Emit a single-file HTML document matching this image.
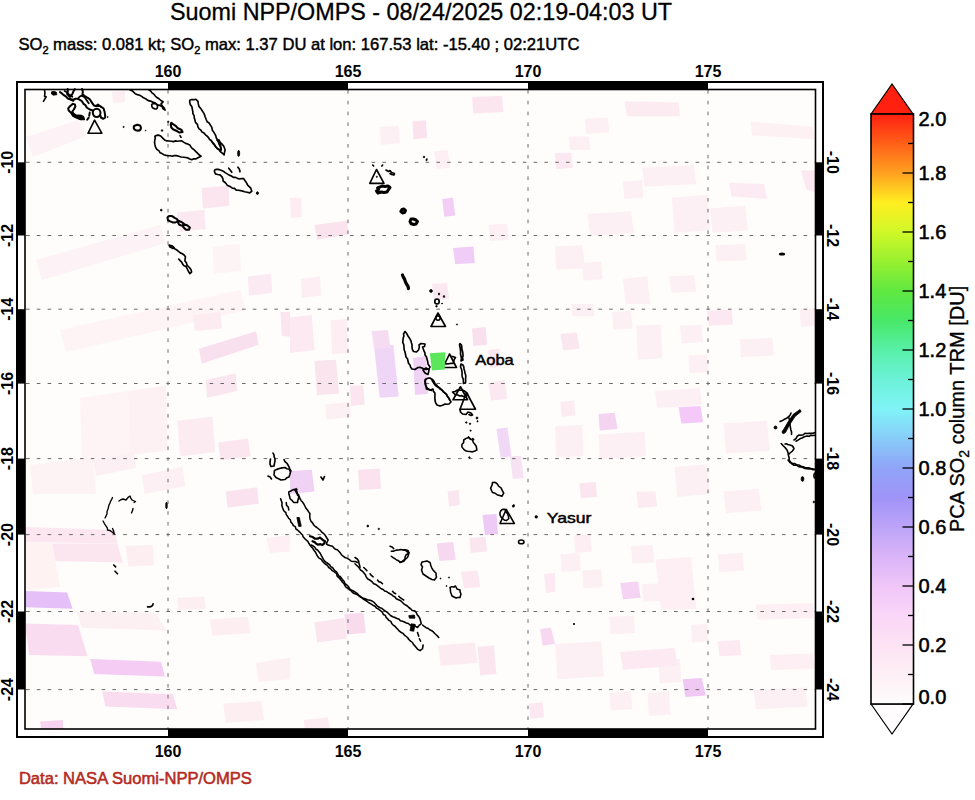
<!DOCTYPE html>
<html><head><meta charset="utf-8"><style>
html,body{margin:0;padding:0;background:#fff;}
svg{display:block;font-family:"Liberation Sans", sans-serif;}
</style></head><body>
<svg width="975" height="800" viewBox="0 0 975 800">
<rect x="25" y="89" width="791" height="641" fill="#fffcfc"/>
<polygon points="571.3,304.0 593.0,304.0 594.4,316.2 572.7,316.2" fill="#fdf0f4"/>
<polygon points="612.0,312.0 631.0,310.8 632.4,328.5 613.4,329.8" fill="#fdf0f4"/>
<polygon points="636.5,325.7 661.0,324.4 662.3,358.3 638.0,359.7" fill="#fdf0f4"/>
<polygon points="680.0,325.7 701.7,324.4 703.0,342.0 681.4,343.4" fill="#fdf0f4"/>
<polygon points="688.2,355.6 707.2,354.3 708.5,372.0 689.5,373.3" fill="#fdf0f4"/>
<polygon points="739.8,339.3 772.4,338.0 773.8,355.6 741.0,357.0" fill="#fdf0f4"/>
<polygon points="799.6,309.4 815.0,308.0 815.0,325.7 801.0,327.0" fill="#fdf0f4"/>
<polygon points="598.5,434.4 644.7,431.7 646.0,456.2 599.8,459.0" fill="#fdf0f4"/>
<polygon points="555.0,426.3 582.2,425.0 583.5,456.2 556.4,457.5" fill="#fdf0f4"/>
<polygon points="723.5,423.6 767.0,420.8 769.7,450.7 726.2,453.5" fill="#fdf0f4"/>
<polygon points="674.6,467.0 707.2,464.3 710.0,494.0 677.3,497.0" fill="#fdf0f4"/>
<polygon points="723.5,491.5 758.8,488.8 761.5,510.5 726.2,513.2" fill="#fdf0f4"/>
<polygon points="585.0,119.0 608.0,117.5 609.3,132.5 586.3,134.0" fill="#fdf0f4"/>
<polygon points="642.0,167.8 693.6,165.0 696.3,184.0 644.7,186.8" fill="#fdf0f4"/>
<polygon points="623.0,181.4 642.0,180.0 643.3,197.7 624.3,199.0" fill="#fdf0f4"/>
<polygon points="671.8,197.7 707.2,195.0 710.0,230.3 674.6,233.0" fill="#fdf0f4"/>
<polygon points="587.6,214.0 631.0,211.3 633.8,233.0 590.3,235.7" fill="#fdf0f4"/>
<polygon points="709.9,208.6 745.2,205.8 748.0,230.3 712.6,233.0" fill="#fdf0f4"/>
<polygon points="555.0,246.6 582.2,245.3 585.0,268.3 556.4,269.7" fill="#fdf0f4"/>
<polygon points="582.2,263.0 601.2,261.6 602.6,279.2 583.5,280.6" fill="#fdf0f4"/>
<polygon points="669.0,276.5 693.6,275.2 696.3,291.4 671.8,292.8" fill="#fdf0f4"/>
<polygon points="715.3,245.3 745.2,244.0 746.6,260.2 716.7,261.6" fill="#fdf0f4"/>
<polygon points="623.0,279.0 647.4,276.5 650.0,304.0 625.7,304.0" fill="#fdf0f4"/>
<polygon points="560.4,554.3 579.5,553.0 580.8,570.6 561.8,572.0" fill="#fdf0f4"/>
<polygon points="582.2,570.6 601.2,569.3 602.6,587.0 583.5,588.3" fill="#fdf0f4"/>
<polygon points="631.0,546.0 652.8,544.8 654.2,562.5 632.4,563.8" fill="#fdf0f4"/>
<polygon points="642.0,584.2 663.7,583.0 665.0,600.5 643.3,602.0" fill="#fdf0f4"/>
<polygon points="609.3,616.8 633.8,615.5 635.0,633.0 610.7,634.5" fill="#fdf0f4"/>
<polygon points="690.9,625.0 707.2,623.6 708.5,641.3 692.2,642.6" fill="#fdf0f4"/>
<polygon points="555.0,644.0 601.2,641.3 604.0,676.6 557.7,679.3" fill="#fdf0f4"/>
<polygon points="658.3,660.3 680.0,659.0 681.4,682.0 659.6,683.4" fill="#fdf0f4"/>
<polygon points="609.3,693.0 631.0,691.6 632.4,709.2 610.7,710.6" fill="#fdf0f4"/>
<polygon points="647.4,693.0 669.0,691.6 670.5,714.7 648.7,716.0" fill="#fdf0f4"/>
<polygon points="26.0,137.0 78.0,120.0 86.5,136.0 33.0,157.0" fill="#fdf2f5"/>
<polygon points="201.6,188.0 228.8,185.5 229.4,205.8 203.0,208.6" fill="#fbe6ef"/>
<polygon points="177.0,212.6 204.3,210.0 205.7,229.0 180.0,231.7" fill="#fbe8f0"/>
<polygon points="247.8,276.5 271.0,273.8 272.3,292.8 249.0,295.5" fill="#fbeaf1"/>
<polygon points="212.5,246.6 239.7,244.0 241.0,271.0 213.9,273.8" fill="#fdf4f6"/>
<polygon points="36.0,260.0 160.0,225.0 166.0,243.0 42.0,280.0" fill="#fdf2f5"/>
<polygon points="60.0,330.0 240.0,290.0 246.0,310.0 66.0,352.0" fill="#fef3f5"/>
<polygon points="112.0,92.0 125.0,91.0 125.0,102.0 113.0,103.0" fill="#fdeef3"/>
<polygon points="412.3,121.6 425.9,120.3 427.2,138.0 413.6,139.3" fill="#fae3ee"/>
<polygon points="472.0,97.0 502.0,95.8 503.3,112.0 473.4,113.5" fill="#fbe6f0"/>
<polygon points="379.7,127.0 398.7,125.7 400.0,143.3 381.0,144.7" fill="#fdf0f4"/>
<polygon points="442.2,199.0 453.0,197.7 455.2,215.4 444.3,216.7" fill="#f2cef6"/>
<polygon points="453.0,248.0 473.4,246.6 474.8,263.0 455.2,264.3" fill="#f0cdf6"/>
<polygon points="314.5,224.9 347.0,220.8 348.4,234.4 317.2,239.8" fill="#fbe3ee"/>
<polygon points="488.4,224.9 507.4,223.5 509.0,240.0 490.0,241.0" fill="#fdf0f4"/>
<polygon points="434.0,151.5 447.6,150.0 450.3,167.8 436.7,169.0" fill="#fdeff3"/>
<polygon points="290.0,197.7 301.0,197.7 302.0,216.7 291.0,218.0" fill="#fdedf2"/>
<polygon points="301.0,279.0 320.0,276.5 321.0,295.5 302.0,298.0" fill="#fdeef3"/>
<polygon points="432.0,284.0 447.0,283.0 449.0,299.0 434.0,300.0" fill="#fbe8f0"/>
<polygon points="624.3,101.2 678.6,102.6 680.0,116.2 627.0,116.2" fill="#fcecf2"/>
<polygon points="729.0,182.8 764.2,184.0 767.0,199.0 731.6,196.3" fill="#fcebf2"/>
<polygon points="555.0,153.0 571.3,153.0 572.7,167.8 556.4,169.2" fill="#fbe8f0"/>
<polygon points="750.7,121.6 813.0,127.0 814.5,139.3 752.0,135.2" fill="#fdf1f4"/>
<polygon points="801.0,170.5 815.0,170.5 815.0,192.0 806.4,189.5" fill="#fce8f0"/>
<polygon points="568.6,136.6 589.0,136.6 590.3,150.0 570.0,150.0" fill="#fdf0f4"/>
<polygon points="199.0,348.8 256.0,331.2 258.7,344.8 201.6,363.8" fill="#f9e0ee"/>
<polygon points="193.5,315.0 220.7,312.0 222.0,328.5 194.8,331.0" fill="#fcecf2"/>
<polygon points="205.7,380.0 235.6,373.3 237.0,391.0 207.0,397.7" fill="#fae6ef"/>
<polygon points="177.2,420.8 212.5,416.8 215.2,452.0 180.0,456.2" fill="#fcecf2"/>
<polygon points="218.0,442.6 248.0,438.5 250.5,456.2 220.7,460.2" fill="#fbe6f0"/>
<polygon points="226.0,491.5 257.3,487.4 258.7,503.7 227.4,507.8" fill="#fae3ee"/>
<polygon points="280.4,312.0 290.0,312.0 290.0,336.6 282.0,336.0" fill="#fbe6f0"/>
<polygon points="128.0,391.0 166.0,385.5 167.7,450.7 129.6,455.0" fill="#fdf1f4"/>
<polygon points="80.0,398.0 128.0,391.0 129.6,455.0 82.0,460.0" fill="#fef4f5"/>
<polygon points="93.0,460.0 134.0,452.0 136.0,468.0 96.0,476.0" fill="#fdf0f4"/>
<polygon points="141.8,475.0 182.6,467.0 185.3,486.0 144.6,494.0" fill="#fdf0f4"/>
<polygon points="30.0,465.0 93.0,457.0 96.0,494.0 33.0,494.0" fill="#fef3f4"/>
<polygon points="374.2,347.5 393.3,344.8 398.7,396.4 379.7,397.7" fill="#efd6f6"/>
<polygon points="371.5,331.0 387.8,330.0 390.5,347.5 374.2,348.8" fill="#f6dcf0"/>
<polygon points="314.5,361.0 336.0,359.7 339.0,393.7 317.0,395.0" fill="#fae4ee"/>
<polygon points="290.0,317.6 311.7,315.0 314.5,350.0 290.0,353.0" fill="#fce9f1"/>
<polygon points="330.8,320.3 347.0,319.0 348.4,352.9 332.1,354.2" fill="#fdeef3"/>
<polygon points="349.8,385.5 363.4,385.5 364.7,404.5 351.0,406.0" fill="#fbe6f0"/>
<polygon points="413.0,358.0 426.0,356.0 428.0,393.7 415.0,395.0" fill="#f0d2f4"/>
<polygon points="472.0,328.5 485.7,327.0 487.0,344.8 473.4,346.0" fill="#f9e0ee"/>
<polygon points="488.4,350.0 499.2,348.8 500.6,366.5 489.7,367.9" fill="#fbe8f0"/>
<polygon points="496.5,429.0 507.4,427.6 511.5,456.2 500.6,457.5" fill="#f0d8f6"/>
<polygon points="510.0,456.0 521.0,456.0 523.7,478.0 512.8,479.0" fill="#f7e2f3"/>
<polygon points="358.0,469.8 379.7,468.4 381.0,488.8 359.3,490.0" fill="#fae3ee"/>
<polygon points="290.0,471.0 311.7,469.8 314.5,491.5 290.0,494.0" fill="#f0d2f5"/>
<polygon points="447.6,491.5 458.5,490.0 459.8,505.0 449.0,506.4" fill="#fae6ef"/>
<polygon points="488.4,383.0 504.7,380.0 507.4,399.0 491.0,400.5" fill="#fbe8f0"/>
<polygon points="325.3,404.5 349.8,401.8 351.0,417.0 326.6,419.5" fill="#fdf0f4"/>
<polygon points="678.6,407.3 700.4,406.0 703.0,422.2 681.4,423.6" fill="#f4c8f8"/>
<polygon points="598.5,414.0 614.8,412.7 617.5,429.0 599.8,430.4" fill="#f4d4f0"/>
<polygon points="560.4,333.9 576.7,332.5 579.5,348.8 563.2,350.2" fill="#fae6ef"/>
<polygon points="707.2,310.8 731.6,309.4 733.0,324.4 708.5,325.7" fill="#fbe8f0"/>
<polygon points="560.4,401.8 574.0,400.5 575.4,415.4 561.8,416.8" fill="#fcecf2"/>
<polygon points="579.5,483.3 595.8,482.0 597.0,497.0 580.8,498.3" fill="#fbe6ef"/>
<polygon points="636.5,491.5 655.5,491.5 657.0,506.5 638.0,508.0" fill="#fcecf2"/>
<polygon points="655.0,391.0 700.0,388.0 702.0,405.0 657.0,408.0" fill="#fdf0f4"/>
<polygon points="25.0,527.0 114.7,530.0 117.4,543.5 25.0,542.0" fill="#fce6f0"/>
<polygon points="52.2,543.5 117.4,543.5 122.8,562.5 55.0,561.0" fill="#fbe6f0"/>
<polygon points="25.0,542.0 52.0,543.0 60.0,587.0 25.0,590.0" fill="#fef2f2"/>
<polygon points="25.0,591.0 67.1,592.4 72.6,608.7 25.0,607.3" fill="#e4bff8"/>
<polygon points="25.0,623.6 78.0,625.0 87.5,656.2 29.0,654.9" fill="#fadcf0"/>
<polygon points="90.2,659.0 160.9,661.7 165.0,676.6 94.3,673.9" fill="#f4ccf4"/>
<polygon points="102.4,691.6 173.1,694.3 177.2,709.2 105.2,706.5" fill="#fadcf0"/>
<polygon points="40.0,721.5 63.0,720.0 63.0,729.0 41.3,729.0" fill="#f6d4f0"/>
<polygon points="76.6,611.4 155.4,612.8 166.3,630.4 82.0,627.7" fill="#fdf0f2"/>
<polygon points="125.5,546.0 152.7,544.8 154.0,565.2 128.3,566.6" fill="#fdeef2"/>
<polygon points="209.8,619.5 247.8,616.8 250.5,633.0 212.5,635.8" fill="#fdeef2"/>
<polygon points="223.4,703.8 261.4,701.0 264.0,720.0 226.0,722.8" fill="#fdeef2"/>
<polygon points="256.0,663.0 290.0,657.6 290.0,679.3 258.7,682.0" fill="#fdf0f3"/>
<polygon points="177.2,597.8 204.4,596.4 205.7,608.7 178.5,610.0" fill="#fdeef2"/>
<polygon points="266.8,538.0 290.0,535.3 290.0,551.6 269.6,553.0" fill="#fdeff3"/>
<polygon points="344.3,614.0 363.4,612.8 366.0,633.0 347.0,634.5" fill="#f8dcee"/>
<polygon points="314.5,622.3 344.3,618.0 347.0,638.6 317.2,642.6" fill="#fbe6f0"/>
<polygon points="436.7,543.5 453.0,542.0 455.8,559.8 439.5,561.0" fill="#f6d8f0"/>
<polygon points="482.5,515.0 496.5,514.0 498.0,534.0 485.0,535.0" fill="#eecaf6"/>
<polygon points="469.4,538.0 485.7,536.7 487.0,551.6 470.7,553.0" fill="#fae6ef"/>
<polygon points="461.0,572.0 477.5,570.6 480.2,587.0 464.0,588.3" fill="#fbe8f0"/>
<polygon points="477.5,646.7 493.8,645.4 496.5,674.0 480.2,675.3" fill="#fbe6f0"/>
<polygon points="438.0,645.4 474.8,642.6 477.5,663.0 440.8,665.7" fill="#fcecf2"/>
<polygon points="540.0,629.0 551.0,627.7 555.0,644.0 542.7,645.4" fill="#f6d8f0"/>
<polygon points="529.0,703.8 542.7,702.4 544.0,717.4 530.5,718.7" fill="#fbe8f0"/>
<polygon points="303.6,720.0 328.0,717.4 329.4,728.0 305.0,729.0" fill="#fcebf1"/>
<polygon points="544.0,574.0 555.0,573.0 555.0,592.0 546.0,593.0" fill="#fce9f1"/>
<polygon points="620.2,582.9 638.0,581.5 640.6,597.8 623.0,599.2" fill="#f4d4f2"/>
<polygon points="682.7,679.3 701.7,678.0 705.8,695.6 685.4,697.0" fill="#f0c8f4"/>
<polygon points="620.2,652.0 674.6,648.0 677.3,665.7 623.0,669.8" fill="#fce9f1"/>
<polygon points="655.5,559.8 690.9,557.0 696.3,608.7 661.0,610.0" fill="#fdeff3"/>
<polygon points="718.0,641.3 739.8,640.0 741.0,655.0 719.4,656.2" fill="#fce9f1"/>
<polygon points="756.0,604.6 813.0,603.2 814.5,618.0 757.4,619.5" fill="#fdeff3"/>
<polygon points="769.7,654.9 813.0,653.5 814.5,668.5 771.0,670.0" fill="#fdeff3"/>
<polygon points="753.4,690.0 805.0,687.5 807.7,706.5 756.0,709.2" fill="#fdf0f4"/>
<polygon points="574.0,535.3 590.3,534.0 591.7,551.6 575.4,553.0" fill="#fdeef3"/>
<polygon points="718.0,554.3 742.5,553.0 744.0,570.6 719.4,572.0" fill="#fdeff3"/>
<line x1="168.0" y1="90" x2="168.0" y2="729" stroke="#6a6a6a" stroke-width="1" stroke-dasharray="3.6 7.2"/>
<line x1="348.0" y1="90" x2="348.0" y2="729" stroke="#6a6a6a" stroke-width="1" stroke-dasharray="3.6 7.2"/>
<line x1="528.0" y1="90" x2="528.0" y2="729" stroke="#6a6a6a" stroke-width="1" stroke-dasharray="3.6 7.2"/>
<line x1="708.0" y1="90" x2="708.0" y2="729" stroke="#6a6a6a" stroke-width="1" stroke-dasharray="3.6 7.2"/>
<line x1="26" y1="162.3" x2="815" y2="162.3" stroke="#6a6a6a" stroke-width="1" stroke-dasharray="3.6 7.2"/>
<line x1="26" y1="235.5" x2="815" y2="235.5" stroke="#6a6a6a" stroke-width="1" stroke-dasharray="3.6 7.2"/>
<line x1="26" y1="309.2" x2="815" y2="309.2" stroke="#6a6a6a" stroke-width="1" stroke-dasharray="3.6 7.2"/>
<line x1="26" y1="383.5" x2="815" y2="383.5" stroke="#6a6a6a" stroke-width="1" stroke-dasharray="3.6 7.2"/>
<line x1="26" y1="458.6" x2="815" y2="458.6" stroke="#6a6a6a" stroke-width="1" stroke-dasharray="3.6 7.2"/>
<line x1="26" y1="534.6" x2="815" y2="534.6" stroke="#6a6a6a" stroke-width="1" stroke-dasharray="3.6 7.2"/>
<line x1="26" y1="611.5" x2="815" y2="611.5" stroke="#6a6a6a" stroke-width="1" stroke-dasharray="3.6 7.2"/>
<line x1="26" y1="689.6" x2="815" y2="689.6" stroke="#6a6a6a" stroke-width="1" stroke-dasharray="3.6 7.2"/>
<g transform="translate(40,89) scale(0.08203)">
<path d="M55.0,10.0 L60.0,50.0 L55.0,90.0 L75.0,95.0 L60.0,120.0 L42.0,150.0" fill="none" stroke="#000" stroke-width="1.6" vector-effect="non-scaling-stroke" stroke-linejoin="round" stroke-linecap="round"/>
<path d="M665,380 L585,540 L755,540 Z" fill="none" stroke="#000" stroke-width="1.6" vector-effect="non-scaling-stroke" stroke-linejoin="round" stroke-linecap="round"/>
<path d="M140,35 Q165,20 200,40 L205,70 L160,75 L140,60 Z" fill="#000" stroke="#000" stroke-width="0.8" vector-effect="non-scaling-stroke"/>
</g>
<g transform="translate(60,89) scale(0.05128)">
<path d="M0.0,60.0 L32.6,81.8 L60.0,110.0 L120.0,150.0 L160.0,190.0 L200.0,200.0 L260.0,230.0" fill="none" stroke="#000" stroke-width="2.0" vector-effect="non-scaling-stroke" stroke-linejoin="round" stroke-linecap="round"/>
<path d="M150.0,0.0 L153.1,50.8 L140.0,100.0 L190.0,150.0" fill="none" stroke="#000" stroke-width="2.0" vector-effect="non-scaling-stroke" stroke-linejoin="round" stroke-linecap="round"/>
<path d="M290.0,0.0 L261.8,48.4 L240.0,100.0 L200.0,150.0" fill="none" stroke="#000" stroke-width="2.0" vector-effect="non-scaling-stroke" stroke-linejoin="round" stroke-linecap="round"/>
<path d="M430.0,0.0 L445.0,49.0 L440.0,100.0 L469.5,125.6 L500.0,150.0 L541.7,172.3 L580.0,200.0 L620.0,260.0 L660.0,320.0 L700.0,330.0 L760.0,330.0" fill="none" stroke="#000" stroke-width="2.0" vector-effect="non-scaling-stroke" stroke-linejoin="round" stroke-linecap="round"/>
<path d="M200.0,200.0 L260.0,210.0 L302.8,189.9 L350.0,190.0 L384.9,210.2 L420.0,230.0 L460.0,290.0 L498.2,318.0 L520.0,360.0 L580.0,400.0 L640.0,420.0" fill="none" stroke="#000" stroke-width="2.0" vector-effect="non-scaling-stroke" stroke-linejoin="round" stroke-linecap="round"/>
<path d="M250.0,290.0 L290.0,300.0 L300.0,340.0 L270.0,400.0 L240.0,440.0 L260.0,480.0 L320.0,520.0 L360.0,518.4 L400.0,520.0 L450.0,540.0 L470.0,590.0 L400.0,590.0 L330.0,560.0 L260.0,530.0 L220.0,470.0 L170.0,420.0 L160.0,380.0 L200.0,330.0 L250.0,290.0 Z" fill="none" stroke="#000" stroke-width="2.0" vector-effect="non-scaling-stroke" stroke-linejoin="round" stroke-linecap="round"/>
<path d="M640,465 A75,80 0 1,0 790,465 A75,80 0 1,0 640,465 Z" fill="none" stroke="#000" stroke-width="2.0" vector-effect="non-scaling-stroke" stroke-linejoin="round" stroke-linecap="round"/>
<path d="M790.0,340.0 L850.0,380.0 L870.0,450.0 L880.0,510.0 L880.0,560.0 L840.0,580.0 L800.0,560.0 L790.0,520.0" fill="none" stroke="#000" stroke-width="2.0" vector-effect="non-scaling-stroke" stroke-linejoin="round" stroke-linecap="round"/>
<path d="M580.0,460.0 L570.0,520.0" fill="none" stroke="#000" stroke-width="2.0" vector-effect="non-scaling-stroke" stroke-linejoin="round" stroke-linecap="round"/>
<path d="M560.0,560.0 L530.0,600.0" fill="none" stroke="#000" stroke-width="2.0" vector-effect="non-scaling-stroke" stroke-linejoin="round" stroke-linecap="round"/>
<path d="M930,545 m-10,0 a10,10 0 1,0 20,0 a10,10 0 1,0 -20,0" fill="#000" stroke="#000" stroke-width="0.8" vector-effect="non-scaling-stroke"/>
<path d="M330,520 L420,510 L460,560 L440,590 L360,570 Z" fill="#000" stroke="#000" stroke-width="0.8" vector-effect="non-scaling-stroke"/>
</g>
<g transform="translate(60,89) scale(0.05128)">
<path d="M90.0,40.0 L126.4,57.3 L150.0,90.0 L200.0,120.0 L240.0,150.0" fill="none" stroke="#000" stroke-width="1.8" vector-effect="non-scaling-stroke" stroke-linejoin="round" stroke-linecap="round"/>
<path d="M350.0,190.0 L380.0,150.0 L420.0,130.0 L480.0,160.0 L520.0,220.0 L560.0,280.0" fill="none" stroke="#000" stroke-width="1.8" vector-effect="non-scaling-stroke" stroke-linejoin="round" stroke-linecap="round"/>
<path d="M700.0,330.0 L740.0,300.0 L790.0,340.0" fill="none" stroke="#000" stroke-width="1.8" vector-effect="non-scaling-stroke" stroke-linejoin="round" stroke-linecap="round"/>
</g>
<g transform="translate(120,89) scale(0.10256)">
<path d="M95.0,8.0 L116.3,15.7 L133.0,30.8 L149.2,46.5 L170.0,55.0 L192.0,61.1 L211.4,72.1 L229.3,86.3 L250.0,95.0 L271.1,110.7 L296.3,117.8 L320.0,128.0 L343.8,137.6 L364.3,154.4 L390.0,160.0 L410.2,171.1 L420.5,193.1 L440.0,205.0 L430.0,185.0 L410.0,160.0 L400.0,145.0 L420.0,125.0 L398.5,112.0 L380.0,95.0 L360.5,83.1 L343.7,68.3 L330.0,50.0 L311.9,37.7 L299.0,19.2 L280.0,8.0" fill="none" stroke="#000" stroke-width="1.65" vector-effect="non-scaling-stroke" stroke-linejoin="round" stroke-linecap="round"/>
<path d="M310.0,150.0 L320.6,142.5 L332.5,140.0 L345.6,142.5 L360.0,150.0 L365.3,162.2 L366.2,173.8 L362.8,184.7 L355.0,195.0 L339.1,193.4 L326.2,188.8 L316.6,180.9 L310.0,170.0 L310.0,150.0 Z" fill="none" stroke="#000" stroke-width="1.65" vector-effect="non-scaling-stroke" stroke-linejoin="round" stroke-linecap="round"/>
<path d="M680.0,110.0 L699.4,103.0 L720.2,104.3 L740.0,100.0 L760.0,120.0 L763.4,145.3 L770.0,170.0 L786.2,189.1 L800.0,210.0 L820.0,240.0 L830.0,270.0 L839.5,295.2 L850.0,320.0 L868.6,331.4 L880.0,350.0 L894.8,373.1 L900.0,400.0 L920.0,430.0 L933.2,453.7 L940.0,480.0 L960.0,500.0 L968.1,520.9 L980.0,540.0 L982.5,559.9 L985.5,579.8 L985.0,600.0 L968.0,589.1 L950.0,580.0 L937.1,565.4 L923.2,551.5 L915.1,532.8 L900.0,520.0 L889.3,503.5 L872.7,491.9 L863.2,474.4 L850.0,460.0 L833.5,446.4 L819.4,429.9 L800.0,420.0 L788.8,401.7 L771.4,388.2 L760.0,370.0 L755.2,344.5 L735.9,325.1 L730.0,300.0 L724.1,280.2 L722.9,259.3 L711.0,241.0 L710.0,220.0 L704.9,195.0 L700.0,170.0 L685.2,152.4 L680.0,130.0 L680.0,110.0 Z" fill="none" stroke="#000" stroke-width="1.65" vector-effect="non-scaling-stroke" stroke-linejoin="round" stroke-linecap="round"/>
<path d="M340.0,460.0 L355.0,452.5 L370.0,450.0 L385.0,452.5 L400.0,460.0 L418.6,481.4 L440.0,500.0 L459.5,506.4 L479.9,507.5 L500.0,510.0 L520.2,513.4 L539.9,505.8 L560.1,509.3 L580.1,507.1 L600.0,505.0 L619.5,518.3 L640.0,530.0 L660.2,537.0 L680.0,545.0 L690.4,562.6 L702.8,578.5 L720.0,590.0 L740.2,609.8 L760.0,630.0 L773.8,644.0 L790.0,655.0 L760.0,670.0 L741.6,681.5 L719.3,681.1 L700.0,690.0 L680.5,682.1 L661.7,672.0 L641.1,667.7 L620.0,665.0 L596.1,662.5 L573.1,656.3 L550.0,650.0 L530.0,648.0 L510.0,655.6 L490.0,650.4 L470.0,650.0 L448.8,647.0 L428.6,640.9 L410.0,630.0 L390.1,620.7 L378.6,600.9 L360.0,590.0 L346.0,566.6 L340.0,540.0 L337.0,520.0 L338.7,500.0 L344.3,480.0 L340.0,460.0 Z" fill="none" stroke="#000" stroke-width="1.65" vector-effect="non-scaling-stroke" stroke-linejoin="round" stroke-linecap="round"/>
<path d="M585.0,455.0 L595.0,470.0" fill="none" stroke="#000" stroke-width="1.65" vector-effect="non-scaling-stroke" stroke-linejoin="round" stroke-linecap="round"/>
<path d="M35,370 m-6,0 a6,6 0 1,0 12,0 a6,6 0 1,0 -12,0" fill="#000" stroke="#000" stroke-width="0.8" vector-effect="non-scaling-stroke"/>
<path d="M410,405 m-8,0 a8,8 0 1,0 16,0 a8,8 0 1,0 -16,0" fill="#000" stroke="#000" stroke-width="0.8" vector-effect="non-scaling-stroke"/>
<path d="M470,320 m-7,0 a7,7 0 1,0 14,0 a7,7 0 1,0 -14,0" fill="#000" stroke="#000" stroke-width="0.8" vector-effect="non-scaling-stroke"/>
<path d="M250,405 m-4,0 a4,4 0 1,0 8,0 a4,4 0 1,0 -8,0" fill="#000" stroke="#000" stroke-width="0.8" vector-effect="non-scaling-stroke"/>
</g>
<g transform="translate(120,89) scale(0.10256)">
<path d="M500.0,330.0 L520.0,345.0 L543.2,358.8 L560.0,380.0 L580.3,389.5 L600.0,400.0 L610.0,420.0 L580.0,425.0 L555.0,410.0 L520.0,395.0 L500.0,375.0 L495.0,345.0 L500.0,330.0 Z" fill="none" stroke="#000" stroke-width="2.1" vector-effect="non-scaling-stroke" stroke-linejoin="round" stroke-linecap="round"/>
<path d="M135.0,365.0 L148.1,355.0 L162.5,350.0 L178.1,350.0 L195.0,355.0 L202.2,369.4 L203.8,382.5 L199.7,394.4 L190.0,405.0 L171.6,405.6 L156.2,402.5 L144.1,395.6 L135.0,385.0 L135.0,365.0 Z" fill="none" stroke="#000" stroke-width="2.1" vector-effect="non-scaling-stroke" stroke-linejoin="round" stroke-linecap="round"/>
</g>
<g transform="translate(180,140) scale(0.10256)">
<path d="M300.0,0.0 L312.9,17.0 L323.2,36.1 L340.0,50.0 L349.6,67.4 L361.7,82.7 L379.5,93.3 L390.0,110.0 L410.7,126.8 L430.0,145.0 L433.4,122.1 L440.0,100.0 L434.0,78.0 L424.8,57.6 L410.0,40.0 L391.7,22.5 L380.0,0.0" fill="none" stroke="#000" stroke-width="1.65" vector-effect="non-scaling-stroke" stroke-linejoin="round" stroke-linecap="round"/>
<path d="M360.0,0.0 L373.4,18.3 L380.0,40.0 L392.9,63.8 L400.0,90.0" fill="none" stroke="#000" stroke-width="1.65" vector-effect="non-scaling-stroke" stroke-linejoin="round" stroke-linecap="round"/>
<path d="M340.0,290.0 L355.0,286.6 L370.0,286.2 L385.0,289.1 L400.0,295.0 L421.6,304.0 L440.1,318.2 L460.0,330.0 L479.5,342.6 L501.4,350.9 L520.0,365.0 L541.4,364.4 L560.2,374.1 L580.0,380.0 L599.8,376.0 L620.0,375.0 L634.4,397.9 L650.0,420.0 L659.2,440.0 L674.9,454.7 L690.0,470.0 L700.0,500.0 L680.0,515.0 L655.0,509.8 L630.0,505.0 L610.3,498.7 L590.5,493.0 L570.0,490.0 L548.3,488.3 L531.5,472.2 L510.0,470.0 L486.7,452.2 L460.0,440.0 L443.1,416.9 L420.0,400.0 L418.4,379.2 L410.0,360.0 L390.0,340.0 L367.2,336.2 L345.0,330.0 L335.0,305.0 L340.0,290.0 Z" fill="none" stroke="#000" stroke-width="1.65" vector-effect="non-scaling-stroke" stroke-linejoin="round" stroke-linecap="round"/>
<path d="M475.0,275.0 L490.9,294.3 L505.0,315.0" fill="none" stroke="#000" stroke-width="1.65" vector-effect="non-scaling-stroke" stroke-linejoin="round" stroke-linecap="round"/>
<path d="M565.0,265.0 L579.2,285.6 L585.0,310.0" fill="none" stroke="#000" stroke-width="1.65" vector-effect="non-scaling-stroke" stroke-linejoin="round" stroke-linecap="round"/>
<path d="M572,130 m-10,0 a10,30 0 1,0 20,0 a10,30 0 1,0 -20,0" fill="#000" stroke="#000" stroke-width="0.8" vector-effect="non-scaling-stroke"/>
<path d="M755,518 m-10,0 a10,14 0 1,0 20,0 a10,14 0 1,0 -20,0" fill="#000" stroke="#000" stroke-width="0.8" vector-effect="non-scaling-stroke"/>
</g>
<g transform="translate(150,200) scale(0.11249)">
<path d="M155.0,155.0 L163.4,146.9 L173.8,142.5 L185.9,141.9 L200.0,145.0 L219.2,158.7 L240.0,170.0 L250.0,185.0 L225.0,200.0 L201.5,199.6 L180.0,190.0 L160.0,180.0 L155.0,155.0 Z" fill="none" stroke="#000" stroke-width="2.0" vector-effect="non-scaling-stroke" stroke-linejoin="round" stroke-linecap="round"/>
<path d="M250.0,185.0 L280.0,195.0 L300.0,210.0 L290.0,230.0 L260.0,220.0 L250.6,203.8 L250.0,185.0 Z" fill="none" stroke="#000" stroke-width="2.0" vector-effect="non-scaling-stroke" stroke-linejoin="round" stroke-linecap="round"/>
<path d="M300.0,215.0 L330.0,225.0 L355.0,245.0 L345.0,265.0 L320.0,265.0 L295.0,240.0 L300.0,215.0 Z" fill="none" stroke="#000" stroke-width="2.0" vector-effect="non-scaling-stroke" stroke-linejoin="round" stroke-linecap="round"/>
</g>
<g transform="translate(150,200) scale(0.11249)">
<path d="M170.0,400.0 L200.0,410.0 L215.0,425.0 L200.0,430.0 L175.0,415.0 L170.0,400.0 Z" fill="none" stroke="#000" stroke-width="1.65" vector-effect="non-scaling-stroke" stroke-linejoin="round" stroke-linecap="round"/>
<path d="M210.0,430.0 L226.7,437.4 L242.0,447.0 L255.9,458.6 L270.0,470.0 L287.9,477.9 L303.3,489.1 L315.0,505.0 L310.0,540.0 L323.3,558.3 L330.0,580.0 L350.0,600.0 L363.8,618.1 L370.0,640.0 L355.0,655.0 L343.7,638.2 L335.0,620.0 L320.0,590.0 L302.2,584.2 L290.0,570.0 L281.5,552.5 L267.6,539.3 L255.0,525.0" fill="none" stroke="#000" stroke-width="1.65" vector-effect="non-scaling-stroke" stroke-linejoin="round" stroke-linecap="round"/>
<path d="M100,90 m-8,0 a8,8 0 1,0 16,0 a8,8 0 1,0 -16,0" fill="#000" stroke="#000" stroke-width="0.8" vector-effect="non-scaling-stroke"/>
</g>
<g transform="translate(355,150) scale(0.10000)">
<path d="M215,195 L148,333 L290,333 Z" fill="none" stroke="#000" stroke-width="1.65" vector-effect="non-scaling-stroke" stroke-linejoin="round" stroke-linecap="round"/>
<path d="M178.0,152.0 L186.0,160.0 M268.0,160.0 L276.0,152.0" fill="none" stroke="#000" stroke-width="1.65" vector-effect="non-scaling-stroke" stroke-linejoin="round" stroke-linecap="round"/>
<path d="M310.0,200.0 L335.0,215.0 L350.0,205.0 L365.0,225.0 L395.0,235.0 L390.0,250.0 L365.0,245.0 L350.0,235.0" fill="none" stroke="#000" stroke-width="1.65" vector-effect="non-scaling-stroke" stroke-linejoin="round" stroke-linecap="round"/>
<path d="M218,268 m-6,0 a6,6 0 1,0 12,0 a6,6 0 1,0 -12,0" fill="#000" stroke="#000" stroke-width="0.8" vector-effect="non-scaling-stroke"/>
<path d="M690,70 m-8,0 a8,8 0 1,0 16,0 a8,8 0 1,0 -16,0" fill="#000" stroke="#000" stroke-width="0.8" vector-effect="non-scaling-stroke"/>
<path d="M715,100 m-7,0 a7,7 0 1,0 14,0 a7,7 0 1,0 -14,0" fill="#000" stroke="#000" stroke-width="0.8" vector-effect="non-scaling-stroke"/>
</g>
<g transform="translate(355,150) scale(0.10000)">
<path d="M225.0,380.0 L250.0,370.0 L270.0,360.0 L300.0,365.0 L330.0,360.0 L350.0,375.0 L335.0,395.0 L320.0,420.0 L290.0,425.0 L260.0,420.0 L230.0,430.0 L215.0,410.0 L235.0,395.0 L225.0,380.0 Z" fill="none" stroke="#000" stroke-width="3.0" vector-effect="non-scaling-stroke" stroke-linejoin="round" stroke-linecap="round"/>
<path d="M470.0,595.0 L490.0,590.0 L505.0,605.0 L495.0,625.0 L475.0,630.0 L458.0,615.0 L470.0,595.0 Z" fill="none" stroke="#000" stroke-width="3.0" vector-effect="non-scaling-stroke" stroke-linejoin="round" stroke-linecap="round"/>
<path d="M560.0,690.0 L585.0,690.0 L610.0,700.0 L625.0,715.0 L610.0,740.0 L585.0,745.0 L560.0,735.0 L550.0,715.0 L560.0,690.0 Z" fill="none" stroke="#000" stroke-width="3.0" vector-effect="non-scaling-stroke" stroke-linejoin="round" stroke-linecap="round"/>
</g>
<g transform="translate(395,270) scale(0.10000)">
<path d="M75.0,50.0 L85.0,75.0 L95.0,90.0 L105.0,120.0 L115.0,140.0 L128.9,160.8 L135.0,185.0" fill="none" stroke="#000" stroke-width="3.2" vector-effect="non-scaling-stroke" stroke-linejoin="round" stroke-linecap="round"/>
</g>
<g transform="translate(395,270) scale(0.10000)">
<path d="M420,315 m-22,0 a22,25 0 1,0 44,0 a22,25 0 1,0 -44,0" fill="none" stroke="#000" stroke-width="1.65" vector-effect="non-scaling-stroke" stroke-linejoin="round" stroke-linecap="round"/>
<path d="M430,430 L360,565 L505,565 Z" fill="none" stroke="#000" stroke-width="1.65" vector-effect="non-scaling-stroke" stroke-linejoin="round" stroke-linecap="round"/>
<path d="M430,480 m-22,0 a22,22 0 1,0 44,0 a22,22 0 1,0 -44,0" fill="none" stroke="#000" stroke-width="1.65" vector-effect="non-scaling-stroke" stroke-linejoin="round" stroke-linecap="round"/>
<path d="M360,210 m-14,0 a14,14 0 1,0 28,0 a14,14 0 1,0 -28,0" fill="#000" stroke="#000" stroke-width="0.8" vector-effect="non-scaling-stroke"/>
<path d="M440,240 m-7,0 a7,10 0 1,0 14,0 a7,10 0 1,0 -14,0" fill="#000" stroke="#000" stroke-width="0.8" vector-effect="non-scaling-stroke"/>
<path d="M490,265 m-7,0 a7,10 0 1,0 14,0 a7,10 0 1,0 -14,0" fill="#000" stroke="#000" stroke-width="0.8" vector-effect="non-scaling-stroke"/>
<path d="M470,335 m-5,0 a5,5 0 1,0 10,0 a5,5 0 1,0 -10,0" fill="#000" stroke="#000" stroke-width="0.8" vector-effect="non-scaling-stroke"/>
<path d="M415,362 m-8,0 a8,8 0 1,0 16,0 a8,8 0 1,0 -16,0" fill="#000" stroke="#000" stroke-width="0.8" vector-effect="non-scaling-stroke"/>
<path d="M620,545 m-6,0 a6,6 0 1,0 12,0 a6,6 0 1,0 -12,0" fill="#000" stroke="#000" stroke-width="0.8" vector-effect="non-scaling-stroke"/>
</g>
<g transform="translate(395,325) scale(0.10000)">
<path d="M100.0,65.0 L117.5,85.9 L130.0,110.0 L146.6,134.1 L160.0,160.0 L164.9,179.7 L171.1,199.3 L170.0,220.0 L173.5,243.8 L185.0,265.0 L215.0,270.0 L235.0,250.0 L243.4,225.6 L240.0,200.0 L260.0,185.0 L280.1,187.1 L300.0,190.0 L295.0,215.0 L275.0,220.0 L282.7,239.9 L290.0,260.0 L299.8,278.8 L300.0,300.0 L314.3,317.9 L320.0,340.0 L326.9,364.6 L330.0,390.0 L350.0,420.0 L340.0,440.0 L310.0,445.0 L289.0,440.1 L270.0,430.0 L250.5,423.6 L230.0,425.0 L200.0,445.0 L170.0,440.0 L156.4,421.8 L150.0,400.0 L134.9,382.6 L130.0,360.0 L124.8,337.6 L110.0,320.0 L105.3,294.9 L100.0,270.0 L90.8,245.8 L90.0,220.0 L87.2,196.6 L77.7,174.1 L80.0,150.0 L82.0,130.0 L89.1,110.5 L85.0,90.0 L100.0,65.0 Z" fill="none" stroke="#000" stroke-width="1.65" vector-effect="non-scaling-stroke" stroke-linejoin="round" stroke-linecap="round"/>
<path d="M545,290 L480,425 L615,425 Z" fill="none" stroke="#000" stroke-width="1.65" vector-effect="non-scaling-stroke" stroke-linejoin="round" stroke-linecap="round"/>
<path d="M500.0,385.0 L520.0,389.4 L540.0,387.4 L560.0,382.1 L580.0,385.0 L586.9,364.4 L593.0,343.5 L605.0,325.0 L583.2,316.8 L560.0,315.0" fill="none" stroke="#000" stroke-width="1.65" vector-effect="non-scaling-stroke" stroke-linejoin="round" stroke-linecap="round"/>
<path d="M650.0,185.0 L665.0,200.0 L667.9,220.1 L668.4,240.6 L675.0,260.0 L678.3,282.4 L680.8,304.8 L675.0,327.7 L680.0,350.0 L660.0,360.0 L664.1,336.3 L660.9,313.0 L655.0,290.0 L656.2,267.1 L653.8,244.6 L650.4,222.2 L645.0,200.0 L650.0,185.0 Z" fill="none" stroke="#000" stroke-width="1.65" vector-effect="non-scaling-stroke" stroke-linejoin="round" stroke-linecap="round"/>
<path d="M660.0,390.0 L680.0,400.0 L688.2,419.2 L689.8,440.1 L696.7,459.6 L700.0,480.0 L706.6,499.7 L707.7,519.7 L705.6,539.9 L706.9,559.9 L705.0,580.0 L685.0,585.0 L683.5,563.3 L682.9,541.5 L673.1,521.4 L670.0,500.0 L671.4,479.0 L668.3,458.9 L664.1,439.0 L655.0,420.0 L660.0,390.0 Z" fill="none" stroke="#000" stroke-width="1.65" vector-effect="non-scaling-stroke" stroke-linejoin="round" stroke-linecap="round"/>
<path d="M280.0,450.0 L310.0,430.0 L340.0,445.0 L336.6,470.3 L330.0,495.0 L300.0,480.0 L280.0,450.0 Z" fill="none" stroke="#000" stroke-width="1.65" vector-effect="non-scaling-stroke" stroke-linejoin="round" stroke-linecap="round"/>
<path d="M310.0,540.0 L329.2,531.7 L350.0,530.0 L380.0,550.0 L392.9,568.5 L400.0,590.0 L417.6,602.4 L430.0,620.0 L452.1,632.2 L470.0,650.0 L488.9,671.1 L510.0,690.0 L530.0,720.0 L545.0,750.0" fill="none" stroke="#000" stroke-width="1.65" vector-effect="non-scaling-stroke" stroke-linejoin="round" stroke-linecap="round"/>
<path d="M310.0,540.0 L300.3,558.8 L300.0,580.0 L306.2,606.5 L320.0,630.0 L350.0,650.0 L365.0,655.0" fill="none" stroke="#000" stroke-width="1.65" vector-effect="non-scaling-stroke" stroke-linejoin="round" stroke-linecap="round"/>
</g>
<g transform="translate(405,380) scale(0.10000)">
<path d="M200.0,0.0 L203.6,20.0 L204.9,40.3 L210.0,60.0 L215.0,90.0 L250.0,100.0 L280.0,90.0 L283.3,111.1 L298.1,128.4 L300.0,150.0 L298.1,175.0 L300.0,200.0 L305.4,226.8 L320.0,250.0 L350.0,260.0 L376.3,253.1 L400.0,240.0 L420.0,243.0 L440.0,240.0 L460.0,220.0 L449.8,200.1 L440.0,180.0 L423.7,165.7 L416.0,144.5 L400.0,130.0 L382.1,118.2 L368.9,100.5 L350.0,90.0 L336.9,72.2 L315.9,64.3 L300.0,50.0 L284.0,25.6 L270.0,0.0" fill="none" stroke="#000" stroke-width="1.65" vector-effect="non-scaling-stroke" stroke-linejoin="round" stroke-linecap="round"/>
</g>
<g transform="translate(445,380) scale(0.05000)">
<path d="M310,135 L160,395 L450,395 Z" fill="none" stroke="#000" stroke-width="1.65" vector-effect="non-scaling-stroke" stroke-linejoin="round" stroke-linecap="round"/>
<path d="M430,250 L300,585 L610,585 Z" fill="none" stroke="#000" stroke-width="1.65" vector-effect="non-scaling-stroke" stroke-linejoin="round" stroke-linecap="round"/>
<path d="M150.0,240.0 L204.0,230.0 L250.0,200.0 L300.0,205.4 L350.0,200.0 L388.3,220.5 L422.3,246.3 L450.0,280.0 L420.0,330.0 L379.3,335.0 L340.8,313.7 L300.0,320.0 L252.1,298.0 L200.0,290.0 L150.0,240.0 Z" fill="none" stroke="#000" stroke-width="1.65" vector-effect="non-scaling-stroke" stroke-linejoin="round" stroke-linecap="round"/>
<path d="M300.0,590.0 L310.0,640.0 L350.0,680.0 L420.0,690.0 L460.0,640.0 L520.0,660.0 L550.0,700.0 L520.0,710.0 L480.0,690.0" fill="none" stroke="#000" stroke-width="1.65" vector-effect="non-scaling-stroke" stroke-linejoin="round" stroke-linecap="round"/>
<path d="M640,760 m-18,0 a18,22 0 1,0 36,0 a18,22 0 1,0 -36,0" fill="#000" stroke="#000" stroke-width="0.8" vector-effect="non-scaling-stroke"/>
</g>
<g transform="translate(440,420) scale(0.12500)">
<path d="M190.0,160.0 L208.5,147.0 L230.0,140.0 L243.3,152.6 L260.0,160.0 L266.0,179.0 L278.7,194.1 L290.0,210.0 L295.0,240.0 L278.1,248.8 L260.0,255.0 L240.1,252.0 L220.0,250.0 L203.4,245.7 L190.0,235.0 L175.0,215.0 L175.5,195.4 L189.4,179.5 L190.0,160.0 Z" fill="none" stroke="#000" stroke-width="1.55" vector-effect="non-scaling-stroke" stroke-linejoin="round" stroke-linecap="round"/>
<path d="M420.0,500.0 L434.4,498.1 L447.5,502.5 L459.4,513.1 L470.0,530.0 L490.0,545.0 L498.7,565.6 L510.0,585.0 L495.0,610.0 L477.6,604.8 L460.0,600.0 L441.9,586.3 L420.0,580.0 L411.9,562.8 L405.0,545.0 L415.9,523.6 L420.0,500.0 Z" fill="none" stroke="#000" stroke-width="1.55" vector-effect="non-scaling-stroke" stroke-linejoin="round" stroke-linecap="round"/>
<path d="M228.0,135.0 L240.0,150.0 M262.0,148.0 L270.0,158.0" fill="none" stroke="#000" stroke-width="1.55" vector-effect="non-scaling-stroke" stroke-linejoin="round" stroke-linecap="round"/>
<path d="M210,20 m-6,0 a6,6 0 1,0 12,0 a6,6 0 1,0 -12,0" fill="#000" stroke="#000" stroke-width="0.8" vector-effect="non-scaling-stroke"/>
<path d="M240,30 m-6,0 a6,6 0 1,0 12,0 a6,6 0 1,0 -12,0" fill="#000" stroke="#000" stroke-width="0.8" vector-effect="non-scaling-stroke"/>
<path d="M300,10 m-5,0 a5,5 0 1,0 10,0 a5,5 0 1,0 -10,0" fill="#000" stroke="#000" stroke-width="0.8" vector-effect="non-scaling-stroke"/>
<path d="M245,85 m-5,0 a5,5 0 1,0 10,0 a5,5 0 1,0 -10,0" fill="#000" stroke="#000" stroke-width="0.8" vector-effect="non-scaling-stroke"/>
<path d="M235,300 m-6,0 a6,6 0 1,0 12,0 a6,6 0 1,0 -12,0" fill="#000" stroke="#000" stroke-width="0.8" vector-effect="non-scaling-stroke"/>
<path d="M585,690 m-6,0 a6,8 0 1,0 12,0 a6,8 0 1,0 -12,0" fill="#000" stroke="#000" stroke-width="0.8" vector-effect="non-scaling-stroke"/>
<path d="M770,775 m-7,0 a7,7 0 1,0 14,0 a7,7 0 1,0 -14,0" fill="#000" stroke="#000" stroke-width="0.8" vector-effect="non-scaling-stroke"/>
</g>
<g transform="translate(470,500) scale(0.12500)">
<path d="M290,75 L240,188 L355,188 Z" fill="none" stroke="#000" stroke-width="1.55" vector-effect="non-scaling-stroke" stroke-linejoin="round" stroke-linecap="round"/>
<path d="M240.0,100.0 L246.2,87.2 L255.0,78.8 L266.2,74.7 L280.0,75.0 L287.3,94.1 L300.0,110.0 L307.7,129.3 L310.0,150.0 L290.0,165.0 L273.9,159.6 L260.0,150.0 L248.3,136.1 L240.0,120.0 L240.0,100.0 Z" fill="none" stroke="#000" stroke-width="1.55" vector-effect="non-scaling-stroke" stroke-linejoin="round" stroke-linecap="round"/>
<path d="M410,335 m-22,0 a22,15 0 1,0 44,0 a22,15 0 1,0 -44,0" fill="none" stroke="#000" stroke-width="1.55" vector-effect="non-scaling-stroke" stroke-linejoin="round" stroke-linecap="round"/>
<path d="M350,45 m-6,0 a6,9 0 1,0 12,0 a6,9 0 1,0 -12,0" fill="#000" stroke="#000" stroke-width="0.8" vector-effect="non-scaling-stroke"/>
</g>
<g transform="translate(255,445) scale(0.10000)">
<path d="M180.0,80.0 L189.6,99.0 L192.3,120.3 L200.0,140.0 L199.5,163.7 L194.3,186.8 L190.0,210.0 L160.0,215.0 L150.7,193.5 L150.0,170.0 L155.0,140.0" fill="none" stroke="#000" stroke-width="1.65" vector-effect="non-scaling-stroke" stroke-linejoin="round" stroke-linecap="round"/>
<path d="M290.0,145.0 L299.4,166.2 L318.1,180.6 L330.0,200.0 L340.4,219.8 L349.1,240.4 L360.0,260.0" fill="none" stroke="#000" stroke-width="1.65" vector-effect="non-scaling-stroke" stroke-linejoin="round" stroke-linecap="round"/>
<path d="M195.0,255.0 L218.4,243.8 L243.8,235.0 L270.9,228.8 L300.0,225.0 L318.3,237.0 L340.0,240.0 L355.0,270.0 L348.4,295.3 L340.0,320.0 L317.3,328.2 L300.0,345.0 L280.0,347.5 L260.0,350.0 L235.2,337.2 L210.0,325.0 L190.0,300.0 L192.8,277.5 L195.0,255.0 Z" fill="none" stroke="#000" stroke-width="1.65" vector-effect="non-scaling-stroke" stroke-linejoin="round" stroke-linecap="round"/>
<path d="M130.0,310.0 L151.3,320.6 L165.0,340.0" fill="none" stroke="#000" stroke-width="1.65" vector-effect="non-scaling-stroke" stroke-linejoin="round" stroke-linecap="round"/>
<path d="M660.0,320.0 L680.0,350.0 L695.0,315.0" fill="none" stroke="#000" stroke-width="1.65" vector-effect="non-scaling-stroke" stroke-linejoin="round" stroke-linecap="round"/>
</g>
<g transform="translate(270,480) scale(0.12500)">
<path d="M150.0,95.0 L166.5,87.8 L182.2,78.8 L200.0,75.0 L214.0,87.4 L217.6,106.6 L230.0,120.0 L229.8,140.5 L223.6,160.0 L220.0,180.0 L190.0,180.0 L176.5,163.5 L160.0,150.0 L157.2,131.6 L151.7,113.6 L150.0,95.0 Z" fill="none" stroke="#000" stroke-width="1.55" vector-effect="non-scaling-stroke" stroke-linejoin="round" stroke-linecap="round"/>
<path d="M200.0,80.0 L207.8,94.1 L215.5,108.3 L221.6,123.4 L235.3,134.1 L240.0,150.0 L249.5,165.3 L262.0,178.7 L271.8,193.8 L280.0,210.0 L287.8,226.4 L299.9,240.0 L309.5,255.3 L320.0,270.0 L317.5,290.0 L320.0,310.0 L326.6,328.7 L340.5,343.1 L350.0,360.0 L361.8,370.8 L375.0,380.0 L387.4,390.1 L400.0,400.0 L412.0,414.6 L427.0,426.3 L440.0,440.0 L452.2,460.2 L465.0,480.0 L457.7,495.1 L450.0,510.0 L465.1,520.6 L482.6,525.1 L500.0,530.0 L510.2,542.8 L522.3,553.3 L538.9,558.2 L550.0,570.0 L562.1,582.9 L572.0,598.0 L585.2,609.8 L600.0,620.0 L618.5,627.0 L635.2,636.9 L650.0,650.0 L666.8,652.8 L684.1,652.6 L700.0,660.0" fill="none" stroke="#000" stroke-width="1.55" vector-effect="non-scaling-stroke" stroke-linejoin="round" stroke-linecap="round"/>
<path d="M85.0,150.0 L91.2,167.0 L96.5,184.1 L94.7,202.8 L100.0,220.0 L105.6,235.4 L112.7,249.9 L126.9,260.4 L130.2,277.0 L140.0,290.0 L148.7,305.9 L162.9,318.1 L166.9,337.0 L180.0,350.0 L186.5,365.3 L202.1,373.3 L206.6,390.2 L220.0,400.0 L234.0,412.6 L246.8,426.6 L260.0,440.0 L266.2,456.2 L277.4,468.6 L290.0,480.0 L302.6,491.4 L310.5,506.3 L320.0,520.0 L329.9,533.4 L341.2,545.7 L350.0,560.0 L362.5,575.2 L371.5,592.4 L380.0,610.0 L391.8,624.8 L409.9,633.4 L420.0,650.0 L432.1,662.9 L445.4,674.6 L460.8,684.2 L470.0,700.0 L483.5,708.7 L494.3,720.9 L507.4,730.1 L520.0,740.0 L533.3,749.9 L536.4,767.9 L547.8,779.2 L560.0,790.0" fill="none" stroke="#000" stroke-width="1.55" vector-effect="non-scaling-stroke" stroke-linejoin="round" stroke-linecap="round"/>
<path d="M130.0,180.0 L132.4,201.4 L146.9,218.8 L150.0,240.0" fill="none" stroke="#000" stroke-width="1.55" vector-effect="non-scaling-stroke" stroke-linejoin="round" stroke-linecap="round"/>
<path d="M330.0,520.0 L343.9,528.2 L357.8,536.5 L365.8,552.1 L380.0,560.0 L391.8,573.8 L403.0,588.0 L410.6,604.6 L420.0,620.0 L426.8,635.7 L437.6,648.5 L450.0,660.0 L463.9,668.2 L477.1,677.4 L485.0,693.1 L500.0,700.0 L509.5,712.9 L518.5,726.2 L533.1,735.0 L540.0,750.0 L555.0,775.0" fill="none" stroke="#000" stroke-width="1.55" vector-effect="non-scaling-stroke" stroke-linejoin="round" stroke-linecap="round"/>
<path d="M680.0,620.0 L698.0,632.0 L710.0,650.0 L711.6,667.0 L717.4,683.2 L720.0,700.0" fill="none" stroke="#000" stroke-width="1.55" vector-effect="non-scaling-stroke" stroke-linejoin="round" stroke-linecap="round"/>
<path d="M210,75 m-8,0 a8,8 0 1,0 16,0 a8,8 0 1,0 -16,0" fill="#000" stroke="#000" stroke-width="0.8" vector-effect="non-scaling-stroke"/>
<path d="M215,300 L235,300 L250,370 L230,372 Z" fill="#000" stroke="#000" stroke-width="0.8" vector-effect="non-scaling-stroke"/>
</g>
<g transform="translate(270,480) scale(0.12500)">
<path d="M320.0,450.0 L341.8,456.3 L360.0,470.0 L381.0,469.1 L400.0,460.0 L412.6,471.0 L424.9,482.3 L440.0,490.0 L433.3,507.2 L420.0,520.0 L404.0,513.3 L385.9,517.4 L370.0,510.0 L356.9,497.1 L340.0,490.0" fill="none" stroke="#000" stroke-width="2.2" vector-effect="non-scaling-stroke" stroke-linejoin="round" stroke-linecap="round"/>
</g>
<g transform="translate(0,0) scale(1.00000)">
<path d="M367.8,526 m-0.9,0 a0.9,0.9 0 1,0 1.8,0 a0.9,0.9 0 1,0 -1.8,0" fill="#000" stroke="#000" stroke-width="0.8" vector-effect="non-scaling-stroke"/>
<path d="M378.8,528.9 m-0.7,0 a0.7,0.7 0 1,0 1.4,0 a0.7,0.7 0 1,0 -1.4,0" fill="#000" stroke="#000" stroke-width="0.8" vector-effect="non-scaling-stroke"/>
</g>
<g transform="translate(340,560) scale(0.12500)">
<path d="M120.0,30.0 L132.3,41.7 L145.1,52.9 L155.6,66.4 L165.1,80.9 L180.0,90.0 L191.9,103.8 L203.0,118.0 L209.8,135.1 L220.0,150.0 L234.1,158.0 L247.3,167.1 L259.5,177.5 L270.0,190.0 L287.4,196.4 L301.6,207.6 L316.0,218.5 L330.0,230.0 L344.9,236.4 L356.8,248.2 L373.0,252.2 L386.0,262.0 L400.0,270.0 L414.4,277.6 L425.9,288.9 L440.4,296.4 L450.0,310.0 L467.9,317.9 L485.7,326.0 L500.0,340.0 L511.1,351.7 L524.7,360.4 L539.4,367.7 L550.0,380.0 L565.1,389.8 L577.7,403.5 L597.1,406.9 L610.0,420.0 L617.4,438.2 L630.6,453.0 L640.0,470.0 L645.0,490.0 L650.0,510.0 L632.7,522.7 L620.0,540.0 L604.4,530.9 L590.0,520.0" fill="none" stroke="#000" stroke-width="1.55" vector-effect="non-scaling-stroke" stroke-linejoin="round" stroke-linecap="round"/>
<path d="M190.0,60.0 L202.5,72.5 L215.0,85.0 M240.0,110.0 L251.2,123.8 L265.0,135.0 M300.0,160.0 L310.6,173.7 L327.6,178.8 L340.0,190.0 M420.0,250.0 L430.5,262.5 L445.0,270.0 M470.0,290.0 L482.1,301.6 L495.9,311.0 L510.0,320.0" fill="none" stroke="#000" stroke-width="1.55" vector-effect="non-scaling-stroke" stroke-linejoin="round" stroke-linecap="round"/>
<path d="M0.0,130.0 L10.8,144.5 L21.2,159.2 L33.6,172.6 L40.0,190.0 L55.0,200.0 L67.9,212.1 L75.9,229.1 L90.0,240.0 L106.3,248.0 L121.8,257.3 L137.2,266.7 L150.0,280.0 L165.0,292.8 L181.5,303.1 L200.0,310.0 L219.5,318.2 L240.7,321.3 L260.0,330.0 L275.1,341.6 L288.1,355.3 L300.0,370.0 L316.9,379.7 L335.0,387.2 L350.0,400.0 L363.6,409.6 L378.0,418.2 L390.0,430.0 L404.4,443.8 L421.0,453.9 L440.0,460.0 L454.8,467.9 L471.1,472.8 L483.0,486.5 L500.0,490.0 L515.8,495.9 L530.6,503.8 L547.1,508.2 L560.0,520.0 L580.0,518.9 L600.0,520.0" fill="none" stroke="#000" stroke-width="1.55" vector-effect="non-scaling-stroke" stroke-linejoin="round" stroke-linecap="round"/>
<path d="M0.0,150.0 L10.2,163.9 L20.0,178.0 L32.3,190.3 L40.0,206.0 L50.0,220.0 L65.5,226.3 L76.4,238.2 L90.0,246.9 L100.0,260.0 L114.8,267.7 L130.8,273.4 L145.2,281.8 L158.1,292.7 L172.7,300.7 L185.3,312.1 L200.0,320.0 L215.9,330.2 L230.7,342.0 L247.2,351.3 L262.9,361.8 L280.0,370.0 L292.7,385.3 L310.7,394.2 L326.1,406.2 L340.0,420.0 L346.4,435.4 L362.6,442.9 L368.3,458.8 L380.0,470.0 L391.0,483.0 L407.1,490.9 L413.7,508.3 L425.3,520.7 L440.0,530.0 L451.6,543.4 L463.4,556.6 L475.4,569.6 L490.0,580.0 L504.7,587.3 L514.9,600.2 L527.5,610.0 L540.0,620.0 L551.1,635.6 L564.6,648.7 L580.0,660.0 L587.5,675.2 L599.4,687.2 L610.0,700.0 L622.6,715.4 L640.0,725.0 L660.0,710.0 L665.0,680.0" fill="none" stroke="#000" stroke-width="1.55" vector-effect="non-scaling-stroke" stroke-linejoin="round" stroke-linecap="round"/>
<path d="M620.0,580.0 L630.0,610.0 M635.0,630.0 L645.0,650.0" fill="none" stroke="#000" stroke-width="1.55" vector-effect="non-scaling-stroke" stroke-linejoin="round" stroke-linecap="round"/>
<path d="M660.0,520.0 L674.0,531.5 L689.0,541.5 L706.4,547.8 L720.0,560.0 L736.0,566.4 L748.8,577.2 L760.0,590.0 L775.9,604.1 L790.0,620.0" fill="none" stroke="#000" stroke-width="1.55" vector-effect="non-scaling-stroke" stroke-linejoin="round" stroke-linecap="round"/>
<path d="M550,445 L595,440 L600,465 L555,465 Z" fill="#000" stroke="#000" stroke-width="0.8" vector-effect="non-scaling-stroke"/>
<path d="M570,510 L600,515 L590,570 L560,565 Z" fill="#000" stroke="#000" stroke-width="0.8" vector-effect="non-scaling-stroke"/>
</g>
<g transform="translate(400,540) scale(0.10000)">
<path d="M30.0,100.0 L55.5,97.8 L80.0,105.0 L90.0,130.0 L60.0,150.0 L51.1,169.0 L50.0,190.0 L20.0,215.0 L0.0,220.0" fill="none" stroke="#000" stroke-width="1.55" vector-effect="non-scaling-stroke" stroke-linejoin="round" stroke-linecap="round"/>
<path d="M220.0,220.0 L245.1,215.7 L270.0,210.0 L300.0,225.0 L310.0,260.0 L318.6,280.7 L330.0,300.0 L343.9,316.1 L360.0,330.0 L360.3,350.3 L365.0,370.0 L345.0,400.0 L320.0,395.0 L290.0,380.0 L260.0,360.0 L230.0,340.0 L222.4,320.0 L215.0,300.0 L225.0,270.0 L210.0,245.0 L220.0,220.0 Z" fill="none" stroke="#000" stroke-width="1.55" vector-effect="non-scaling-stroke" stroke-linejoin="round" stroke-linecap="round"/>
<path d="M500.0,475.0 L519.3,466.6 L540.0,470.0 L555.0,460.0 L570.0,490.0 L600.0,500.0 L601.5,520.9 L610.0,540.0 L600.0,575.0 L579.6,574.5 L560.0,580.0 L540.0,570.0 L520.0,560.0 L512.9,539.9 L505.0,520.0 L504.4,497.3 L500.0,475.0 Z" fill="none" stroke="#000" stroke-width="1.55" vector-effect="non-scaling-stroke" stroke-linejoin="round" stroke-linecap="round"/>
<path d="M405,385 m-5,0 a5,5 0 1,0 10,0 a5,5 0 1,0 -10,0" fill="#000" stroke="#000" stroke-width="0.8" vector-effect="non-scaling-stroke"/>
<path d="M490,375 m-6,0 a6,6 0 1,0 12,0 a6,6 0 1,0 -12,0" fill="#000" stroke="#000" stroke-width="0.8" vector-effect="non-scaling-stroke"/>
<path d="M465,460 m-5,0 a5,5 0 1,0 10,0 a5,5 0 1,0 -10,0" fill="#000" stroke="#000" stroke-width="0.8" vector-effect="non-scaling-stroke"/>
</g>
<g transform="translate(380,470) scale(0.12500)">
<path d="M80.0,610.0 L97.3,616.5 L110.0,630.0" fill="none" stroke="#000" stroke-width="1.55" vector-effect="non-scaling-stroke" stroke-linejoin="round" stroke-linecap="round"/>
<path d="M90.0,650.0 L110.4,648.9 L129.6,641.0 L150.0,640.0 L166.7,635.9 L183.3,637.7 L200.0,640.0 L213.8,651.8 L230.0,660.0 L227.7,680.7 L220.0,700.0 L203.4,713.4 L190.0,730.0 L160.0,740.0 L149.4,726.3 L133.3,720.0 L120.0,710.0 L104.4,700.9 L90.0,690.0" fill="none" stroke="#000" stroke-width="1.55" vector-effect="non-scaling-stroke" stroke-linejoin="round" stroke-linecap="round"/>
</g>
<g transform="translate(90,455) scale(0.10000)">
<path d="M225.0,425.0 L216.9,443.4 L206.3,460.8 L200.0,480.0 L190.3,499.0 L185.3,519.6 L180.0,540.0 L170.9,562.0 L169.8,586.6 L161.5,608.8 L150.0,630.0" fill="none" stroke="#000" stroke-width="1.35" vector-effect="non-scaling-stroke" stroke-linejoin="round" stroke-linecap="round"/>
<path d="M290.0,460.0 L308.7,447.4 L330.0,440.0 L360.0,450.0 L385.0,420.0 L400.0,410.0 L407.4,431.3 L420.0,450.0 L455.0,465.0 L440.0,475.0" fill="none" stroke="#000" stroke-width="1.35" vector-effect="non-scaling-stroke" stroke-linejoin="round" stroke-linecap="round"/>
<path d="M430.0,535.0 L424.7,558.2 L415.0,580.0" fill="none" stroke="#000" stroke-width="1.35" vector-effect="non-scaling-stroke" stroke-linejoin="round" stroke-linecap="round"/>
<path d="M130.0,660.0 L144.3,685.4 L160.0,710.0 L173.0,727.9 L175.0,750.0 L199.6,755.2 L220.0,770.0 L245.0,790.0" fill="none" stroke="#000" stroke-width="1.35" vector-effect="non-scaling-stroke" stroke-linejoin="round" stroke-linecap="round"/>
<path d="M225.0,735.0 L235.1,756.6 L240.0,780.0" fill="none" stroke="#000" stroke-width="1.35" vector-effect="non-scaling-stroke" stroke-linejoin="round" stroke-linecap="round"/>
<path d="M765,505 m-8,0 a8,33 0 1,0 16,0 a8,33 0 1,0 -16,0" fill="#000" stroke="#000" stroke-width="0.8" vector-effect="non-scaling-stroke"/>
</g>
<g transform="translate(90,525) scale(0.12500)">
<path d="M190.0,320.0 L205.0,335.0" fill="none" stroke="#000" stroke-width="1.65" vector-effect="non-scaling-stroke" stroke-linejoin="round" stroke-linecap="round"/>
<path d="M200.0,370.0 L220.0,390.0" fill="none" stroke="#000" stroke-width="1.65" vector-effect="non-scaling-stroke" stroke-linejoin="round" stroke-linecap="round"/>
<path d="M460.0,655.0 L477.8,655.3 L491.2,651.2 L500.3,642.8 L505.0,630.0" fill="none" stroke="#000" stroke-width="1.65" vector-effect="non-scaling-stroke" stroke-linejoin="round" stroke-linecap="round"/>
</g>
<g transform="translate(755,395) scale(0.10000)">
<path d="M250.0,265.0 L275.9,254.3 L300.0,240.0 L321.2,229.5 L340.0,215.0 L351.8,198.5 L360.0,180.0" fill="none" stroke="#000" stroke-width="1.6" vector-effect="non-scaling-stroke" stroke-linejoin="round" stroke-linecap="round"/>
<path d="M340.0,230.0 L345.8,253.0 L346.5,276.7 L350.0,300.0 L354.2,323.7 L357.9,347.4 L365.8,370.5 L365.0,395.0" fill="none" stroke="#000" stroke-width="1.6" vector-effect="non-scaling-stroke" stroke-linejoin="round" stroke-linecap="round"/>
<path d="M390.0,450.0 L410.0,436.7 L420.8,414.1 L440.0,400.0 L461.1,401.9 L481.0,397.6 L498.9,383.1 L520.0,385.0 L539.9,382.0 L560.5,383.8 L580.7,383.1 L600.0,375.0" fill="none" stroke="#000" stroke-width="1.6" vector-effect="non-scaling-stroke" stroke-linejoin="round" stroke-linecap="round"/>
<path d="M410.0,462.0 L429.7,450.8 L448.7,438.2 L470.0,430.0 L493.7,416.8 L520.0,410.0 L540.5,413.3 L559.7,402.5 L580.1,405.0 L600.0,402.0" fill="none" stroke="#000" stroke-width="1.6" vector-effect="non-scaling-stroke" stroke-linejoin="round" stroke-linecap="round"/>
<path d="M262.0,485.0 L280.0,505.0 L300.0,525.0 L320.0,550.0 L330.0,575.0 L335.0,605.0 L341.8,627.0 L340.0,650.0 L354.8,670.2 L370.0,690.0 L390.8,702.7 L416.4,700.8 L436.3,716.1 L460.0,720.0 L480.0,725.1 L498.9,734.5 L519.4,737.4 L540.0,740.0 L560.3,738.5 L579.6,748.1 L600.0,745.0" fill="none" stroke="#000" stroke-width="1.6" vector-effect="non-scaling-stroke" stroke-linejoin="round" stroke-linecap="round"/>
<path d="M300.0,490.0 L320.0,488.0 M325.0,495.0 L350.0,500.0 L375.0,510.0 L390.0,535.0 L375.0,560.0 L350.0,580.0 L335.0,595.0" fill="none" stroke="#000" stroke-width="1.6" vector-effect="non-scaling-stroke" stroke-linejoin="round" stroke-linecap="round"/>
<path d="M205,325 m-15,0 a15,15 0 1,0 30,0 a15,15 0 1,0 -30,0" fill="#000" stroke="#000" stroke-width="0.8" vector-effect="non-scaling-stroke"/>
<path d="M285,370 m-14,0 a14,16 0 1,0 28,0 a14,16 0 1,0 -28,0" fill="#000" stroke="#000" stroke-width="0.8" vector-effect="non-scaling-stroke"/>
<path d="M450,145 L462,165 L400,215 L345,300 L305,375 L280,355 L330,270 L380,195 Z" fill="#000" stroke="#000" stroke-width="0.8" vector-effect="non-scaling-stroke"/>
</g>
<g transform="translate(745,460) scale(0.10000)">
<path d="M430.0,0.0 L450.0,25.0 L473.4,33.2 L498.6,36.3 L520.0,50.0 L541.8,50.6 L560.0,62.4 L580.2,68.2 L600.0,75.0 L620.5,76.7 L640.8,78.8 L660.4,85.2 L680.4,88.8 L700.0,95.0" fill="none" stroke="#000" stroke-width="1.55" vector-effect="non-scaling-stroke" stroke-linejoin="round" stroke-linecap="round"/>
<path d="M700.0,130.0 L692.2,140.6 L688.8,152.5 L689.7,165.6 L695.0,180.0" fill="none" stroke="#000" stroke-width="1.55" vector-effect="non-scaling-stroke" stroke-linejoin="round" stroke-linecap="round"/>
<path d="M575,190 m-14,0 a14,24 0 1,0 28,0 a14,24 0 1,0 -28,0" fill="#000" stroke="#000" stroke-width="0.8" vector-effect="non-scaling-stroke"/>
<path d="M688,420 m-8,0 a8,8 0 1,0 16,0 a8,8 0 1,0 -16,0" fill="#000" stroke="#000" stroke-width="0.8" vector-effect="non-scaling-stroke"/>
</g>
<ellipse cx="782" cy="254" rx="3.2" ry="1.6" fill="#000"/>
<circle cx="693" cy="599" r="1.3" fill="#000"/>
<circle cx="574" cy="624" r="1.1" fill="#000"/>
<circle cx="427" cy="159" r="0.8" fill="#000"/>
<circle cx="536.2" cy="516.8" r="1.6" fill="#000"/>
<rect x="168.0" y="82" width="180.0" height="8" fill="#000"/>
<rect x="168.0" y="729" width="180.0" height="8" fill="#000"/>
<rect x="528.0" y="82" width="180.0" height="8" fill="#000"/>
<rect x="528.0" y="729" width="180.0" height="8" fill="#000"/>
<rect x="17" y="162.3" width="8" height="73.2" fill="#000"/>
<rect x="815" y="162.3" width="8" height="73.2" fill="#000"/>
<rect x="17" y="309.2" width="8" height="74.4" fill="#000"/>
<rect x="815" y="309.2" width="8" height="74.4" fill="#000"/>
<rect x="17" y="458.6" width="8" height="76.0" fill="#000"/>
<rect x="815" y="458.6" width="8" height="76.0" fill="#000"/>
<rect x="17" y="611.5" width="8" height="78.0" fill="#000"/>
<rect x="815" y="611.5" width="8" height="78.0" fill="#000"/>
<rect x="17" y="82" width="806" height="655" fill="none" stroke="#000" stroke-width="2"/>
<rect x="25" y="89.5" width="790.5" height="639.5" fill="none" stroke="#000" stroke-width="1.6"/>
<text x="168.0" y="77" font-size="16" font-weight="bold" text-anchor="middle">160</text>
<text x="168.0" y="756.5" font-size="16" font-weight="bold" text-anchor="middle">160</text>
<text x="348.0" y="77" font-size="16" font-weight="bold" text-anchor="middle">165</text>
<text x="348.0" y="756.5" font-size="16" font-weight="bold" text-anchor="middle">165</text>
<text x="528.0" y="77" font-size="16" font-weight="bold" text-anchor="middle">170</text>
<text x="528.0" y="756.5" font-size="16" font-weight="bold" text-anchor="middle">170</text>
<text x="708.0" y="77" font-size="16" font-weight="bold" text-anchor="middle">175</text>
<text x="708.0" y="756.5" font-size="16" font-weight="bold" text-anchor="middle">175</text>
<text transform="translate(13,162.3) rotate(-90)" font-size="16" font-weight="bold" text-anchor="middle">-10</text>
<text transform="translate(827.3,162.3) rotate(90)" font-size="16" font-weight="bold" text-anchor="middle">-10</text>
<text transform="translate(13,235.5) rotate(-90)" font-size="16" font-weight="bold" text-anchor="middle">-12</text>
<text transform="translate(827.3,235.5) rotate(90)" font-size="16" font-weight="bold" text-anchor="middle">-12</text>
<text transform="translate(13,309.2) rotate(-90)" font-size="16" font-weight="bold" text-anchor="middle">-14</text>
<text transform="translate(827.3,309.2) rotate(90)" font-size="16" font-weight="bold" text-anchor="middle">-14</text>
<text transform="translate(13,383.5) rotate(-90)" font-size="16" font-weight="bold" text-anchor="middle">-16</text>
<text transform="translate(827.3,383.5) rotate(90)" font-size="16" font-weight="bold" text-anchor="middle">-16</text>
<text transform="translate(13,458.6) rotate(-90)" font-size="16" font-weight="bold" text-anchor="middle">-18</text>
<text transform="translate(827.3,458.6) rotate(90)" font-size="16" font-weight="bold" text-anchor="middle">-18</text>
<text transform="translate(13,534.6) rotate(-90)" font-size="16" font-weight="bold" text-anchor="middle">-20</text>
<text transform="translate(827.3,534.6) rotate(90)" font-size="16" font-weight="bold" text-anchor="middle">-20</text>
<text transform="translate(13,611.5) rotate(-90)" font-size="16" font-weight="bold" text-anchor="middle">-22</text>
<text transform="translate(827.3,611.5) rotate(90)" font-size="16" font-weight="bold" text-anchor="middle">-22</text>
<text transform="translate(13,689.6) rotate(-90)" font-size="16" font-weight="bold" text-anchor="middle">-24</text>
<text transform="translate(827.3,689.6) rotate(90)" font-size="16" font-weight="bold" text-anchor="middle">-24</text>
<text x="170" y="20.3" font-size="24" stroke="#000" stroke-width="0.3" textLength="502" lengthAdjust="spacingAndGlyphs">Suomi NPP/OMPS - 08/24/2025 02:19-04:03 UT</text>
<text x="18.4" y="50.3" font-size="16.6" stroke="#000" stroke-width="0.45" textLength="561" lengthAdjust="spacingAndGlyphs">SO<tspan font-size="11" dy="4">2</tspan><tspan dy="-4"> mass: 0.081 kt; SO</tspan><tspan font-size="11" dy="4">2</tspan><tspan dy="-4"> max: 1.37 DU at lon: 167.53 lat: -15.40 ; 02:21UTC</tspan></text>
<text x="18.9" y="784" font-size="16.6" fill="#b52a22" stroke="#b52a22" stroke-width="0.55" textLength="233" lengthAdjust="spacingAndGlyphs">Data: NASA Suomi-NPP/OMPS</text>
<defs><linearGradient id="cb" x1="0" y1="1" x2="0" y2="0"><stop offset="0.000" stop-color="#fefcfc"/><stop offset="0.050" stop-color="#fdeff5"/><stop offset="0.100" stop-color="#fde2f4"/><stop offset="0.150" stop-color="#fad6f8"/><stop offset="0.200" stop-color="#f0c6f8"/><stop offset="0.250" stop-color="#dab4f8"/><stop offset="0.300" stop-color="#bca4f8"/><stop offset="0.350" stop-color="#a094f8"/><stop offset="0.400" stop-color="#90a4f8"/><stop offset="0.450" stop-color="#88ccf8"/><stop offset="0.500" stop-color="#80f4f8"/><stop offset="0.550" stop-color="#6cf2d8"/><stop offset="0.600" stop-color="#58f0a8"/><stop offset="0.650" stop-color="#48e868"/><stop offset="0.700" stop-color="#60e840"/><stop offset="0.750" stop-color="#98f030"/><stop offset="0.800" stop-color="#d0f828"/><stop offset="0.850" stop-color="#ffee20"/><stop offset="0.900" stop-color="#ffa020"/><stop offset="0.950" stop-color="#ff6018"/><stop offset="1.000" stop-color="#ff2010"/></linearGradient></defs>
<polygon points="871,114 892,84 913,114" fill="#ff2010" stroke="#000" stroke-width="1.2"/>
<polygon points="871,704 892,734 913,704" fill="#fffcfd" stroke="#000" stroke-width="1.2"/>
<rect x="871" y="114" width="42.5" height="590" fill="url(#cb)" stroke="#000" stroke-width="1.6"/>
<line x1="902.5" y1="704.0" x2="913" y2="704.0" stroke="#000" stroke-width="1.3"/>
<line x1="908" y1="674.5" x2="913" y2="674.5" stroke="#000" stroke-width="1.3"/>
<line x1="902.5" y1="645.0" x2="913" y2="645.0" stroke="#000" stroke-width="1.3"/>
<line x1="908" y1="615.5" x2="913" y2="615.5" stroke="#000" stroke-width="1.3"/>
<line x1="902.5" y1="586.0" x2="913" y2="586.0" stroke="#000" stroke-width="1.3"/>
<line x1="908" y1="556.5" x2="913" y2="556.5" stroke="#000" stroke-width="1.3"/>
<line x1="902.5" y1="527.0" x2="913" y2="527.0" stroke="#000" stroke-width="1.3"/>
<line x1="908" y1="497.5" x2="913" y2="497.5" stroke="#000" stroke-width="1.3"/>
<line x1="902.5" y1="468.0" x2="913" y2="468.0" stroke="#000" stroke-width="1.3"/>
<line x1="908" y1="438.5" x2="913" y2="438.5" stroke="#000" stroke-width="1.3"/>
<line x1="902.5" y1="409.0" x2="913" y2="409.0" stroke="#000" stroke-width="1.3"/>
<line x1="908" y1="379.5" x2="913" y2="379.5" stroke="#000" stroke-width="1.3"/>
<line x1="902.5" y1="350.0" x2="913" y2="350.0" stroke="#000" stroke-width="1.3"/>
<line x1="908" y1="320.5" x2="913" y2="320.5" stroke="#000" stroke-width="1.3"/>
<line x1="902.5" y1="291.0" x2="913" y2="291.0" stroke="#000" stroke-width="1.3"/>
<line x1="908" y1="261.5" x2="913" y2="261.5" stroke="#000" stroke-width="1.3"/>
<line x1="902.5" y1="232.0" x2="913" y2="232.0" stroke="#000" stroke-width="1.3"/>
<line x1="908" y1="202.5" x2="913" y2="202.5" stroke="#000" stroke-width="1.3"/>
<line x1="902.5" y1="173.0" x2="913" y2="173.0" stroke="#000" stroke-width="1.3"/>
<line x1="908" y1="143.5" x2="913" y2="143.5" stroke="#000" stroke-width="1.3"/>
<line x1="902.5" y1="114.0" x2="913" y2="114.0" stroke="#000" stroke-width="1.3"/>
<text x="918.5" y="704.0" font-size="20" stroke="#000" stroke-width="0.55">0.0</text>
<text x="918.5" y="652.2" font-size="20" stroke="#000" stroke-width="0.55">0.2</text>
<text x="918.5" y="593.2" font-size="20" stroke="#000" stroke-width="0.55">0.4</text>
<text x="918.5" y="534.2" font-size="20" stroke="#000" stroke-width="0.55">0.6</text>
<text x="918.5" y="475.2" font-size="20" stroke="#000" stroke-width="0.55">0.8</text>
<text x="918.5" y="416.2" font-size="20" stroke="#000" stroke-width="0.55">1.0</text>
<text x="918.5" y="357.2" font-size="20" stroke="#000" stroke-width="0.55">1.2</text>
<text x="918.5" y="298.2" font-size="20" stroke="#000" stroke-width="0.55">1.4</text>
<text x="918.5" y="239.2" font-size="20" stroke="#000" stroke-width="0.55">1.6</text>
<text x="918.5" y="180.2" font-size="20" stroke="#000" stroke-width="0.55">1.8</text>
<text x="918.5" y="126.0" font-size="20" stroke="#000" stroke-width="0.55">2.0</text>
<text transform="translate(964,409) rotate(-90)" font-size="20" stroke="#000" stroke-width="0.35" text-anchor="middle">PCA SO<tspan font-size="14" dy="5">2</tspan><tspan dy="-5"> column TRM [DU]</tspan></text>
<polygon points="429.8,353.2 445.4,352.2 444.8,369.6 431.9,370.4" fill="#5ce65c"/>
<text x="475.3" y="364.7" font-size="14.5" stroke="#000" stroke-width="0.45" textLength="38.5" lengthAdjust="spacingAndGlyphs">Aoba</text>
<text x="546.8" y="522.6" font-size="14.5" stroke="#000" stroke-width="0.45" textLength="44.7" lengthAdjust="spacingAndGlyphs">Yasur</text>

</svg></body></html>
